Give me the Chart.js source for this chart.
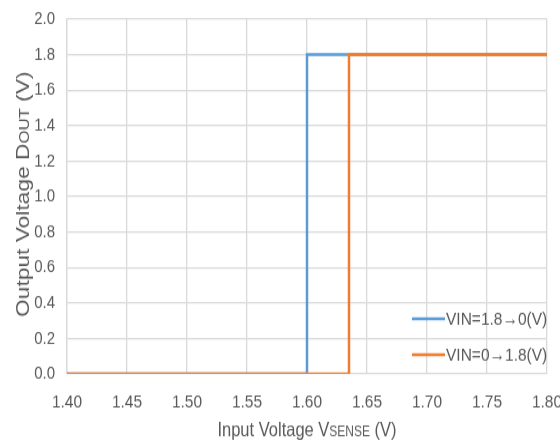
<!DOCTYPE html>
<html>
<head>
<meta charset="utf-8">
<script src="https://cdn.jsdelivr.net/npm/chart.js@4.4.1/dist/chart.umd.min.js"></script>
<style>
  html, body { margin: 0; padding: 0; background: #fff; }
  #page { width: 560px; height: 441px; position: relative; }
  /* the source picture is stretched vertically, so stretch the canvas the same way */
  #wrap { position: absolute; left: 0; top: 0; width: 560px; height: 368px;
          transform: scaleY(1.1984); transform-origin: 0 0; }
</style>
</head>
<body>
<div id="page"><div id="wrap"><canvas id="c" width="560" height="368"></canvas></div></div>
<script>
// series: step transfer curves
let labels = ["VIN=1.8\u21920(V)", "VIN=0\u21921.8(V)"];
let colors = ["#5B9BD5", "#ED7D31"];
let fallX = [1.40, 1.60, 1.60, 1.80];
let fallY = [0, 0, 1.8, 1.8];
let riseX = [1.40, 1.635, 1.635, 1.80];
let riseY = [0, 0, 1.8, 1.8];
let xTicks = [1.40, 1.45, 1.50, 1.55, 1.60, 1.65, 1.70, 1.75, 1.80];
let yTicks = [0, 0.2, 0.4, 0.6, 0.8, 1.0, 1.2, 1.4, 1.6, 1.8, 2.0];

const FONT = "'Liberation Sans', Arial, sans-serif";
const GREY = "#595959";
const H = 368;

function pts(xs, ys) {
  return xs.map((x, i) => ({ x: x, y: ys[i] }));
}

function drawParts(ctx, parts, x, y) {
  parts.forEach(p => {
    ctx.font = p[1] + "px " + FONT;
    ctx.fillText(p[0], x, y);
    x += ctx.measureText(p[0]).width;
  });
}

function partsWidth(ctx, parts) {
  let w = 0;
  parts.forEach(p => { ctx.font = p[1] + "px " + FONT; w += ctx.measureText(p[0]).width; });
  return w;
}

// axis titles (with small caps parts) and the legend inside the plot
const extras = {
  id: "extras",
  afterDraw(chart) {
    let ctx = chart.ctx;
    let a = chart.chartArea;
    ctx.save();
    ctx.fillStyle = GREY;
    ctx.textAlign = "left";
    ctx.textBaseline = "alphabetic";

    // x title
    let parts = [["Input Voltage V", 16.5], ["SENSE", 12], [" (V)", 16.5]];
    let w = partsWidth(ctx, parts);
    drawParts(ctx, parts, 307 - w / 2, 364);

    // y title
    parts = [["Output Voltage D", 19], ["OUT", 14], [" (V)", 19]];
    w = partsWidth(ctx, parts);
    ctx.translate(29, 162);
    ctx.rotate(-Math.PI / 2);
    drawParts(ctx, parts, -w / 2, 0);
    ctx.setTransform(1, 0, 0, 1, 0, 0);

    // legend
    let rows = [266, 296];
    chart.data.datasets.forEach((ds, i) => {
      ctx.strokeStyle = ds.borderColor;
      ctx.lineWidth = 2.5;
      ctx.beginPath();
      ctx.moveTo(412, rows[i]);
      ctx.lineTo(445, rows[i]);
      ctx.stroke();
      ctx.font = "15.5px " + FONT;
      ctx.fillStyle = GREY;
      ctx.textBaseline = "middle";
      ctx.fillText(ds.label, 446, rows[i] + 1);
    });
    ctx.restore();
  }
};

new Chart(document.getElementById("c"), {
  type: "scatter",
  data: {
    datasets: [
      { label: labels[0], data: pts(fallX, fallY), borderColor: colors[0], backgroundColor: colors[0],
        showLine: true, pointRadius: 0, borderWidth: 2.5, tension: 0, order: 1 },
      { label: labels[1], data: pts(riseX, riseY), borderColor: colors[1], backgroundColor: colors[1],
        showLine: true, pointRadius: 0, borderWidth: 2.5, tension: 0, order: 0 }
    ]
  },
  options: {
    responsive: false,
    animation: false,
    layout: { padding: { top: 16, right: 13, left: 0, bottom: 0 } },
    plugins: { legend: { display: false }, tooltip: { enabled: false } },
    scales: {
      x: {
        type: "linear",
        min: xTicks[0],
        max: xTicks[xTicks.length - 1],
        afterBuildTicks: s => { s.ticks = xTicks.map(v => ({ value: v })); },
        afterFit: s => { s.height = H - 16 - 296; s.paddingLeft = 0; s.paddingRight = 0; },
        grid: { color: "#D9D9D9", lineWidth: 1.3, drawTicks: false },
        border: { display: false },
        ticks: { color: GREY, font: { family: FONT, size: 15.5 }, padding: 14,
                 callback: v => v.toFixed(2), maxRotation: 0, autoSkip: false }
      },
      y: {
        min: yTicks[0],
        max: yTicks[yTicks.length - 1],
        afterBuildTicks: s => { s.ticks = yTicks.map(v => ({ value: v })); },
        afterFit: s => { s.width = 67; s.paddingTop = 0; s.paddingBottom = 0; },
        grid: { color: "#D9D9D9", lineWidth: 1.3, drawTicks: false },
        border: { display: true, color: "#D9D9D9", width: 1.3 },
        ticks: { color: GREY, font: { family: FONT, size: 15 }, padding: 12,
                 callback: v => v.toFixed(1), autoSkip: false }
      }
    }
  },
  plugins: [extras]
});
</script>
</body>
</html>
